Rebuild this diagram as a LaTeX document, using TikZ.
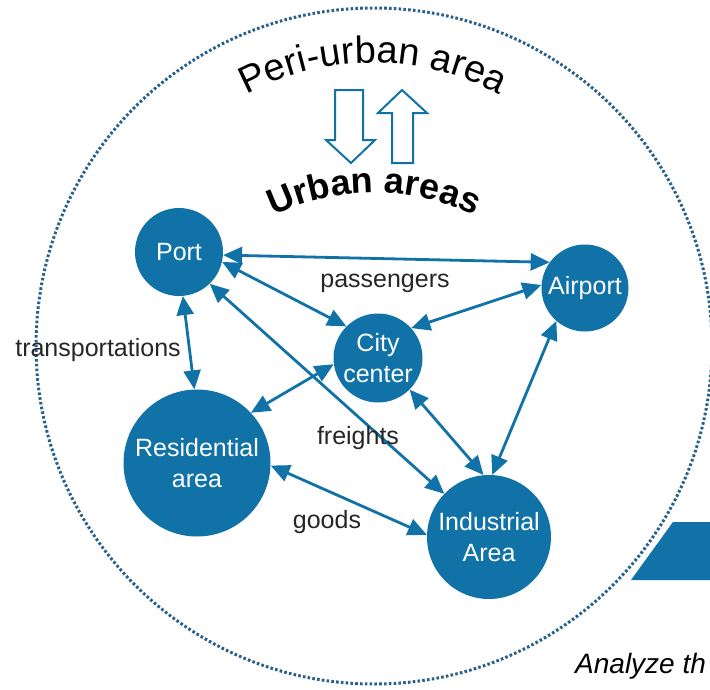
\documentclass[tikz,border=0pt]{standalone}
\usepackage{fontspec}
\setmainfont{Liberation Sans}
\usetikzlibrary{arrows.meta,decorations.text}

\definecolor{cityblue}{RGB}{17,114,168}
\definecolor{dotblue}{RGB}{40,96,140}

\begin{document}
\begin{tikzpicture}[x = 1pt, y = -1pt,
    place/.style = {circle, fill = cityblue, text = white, align = center, inner sep = 0pt,
                    font = \fontsize{25}{31}\selectfont},
    link/.style = {{Triangle[length=19pt, width=17pt]}-{Triangle[length=19pt, width=17pt]},
                   line width = 2.8pt, cityblue},
    flow/.style = {font = \fontsize{25}{30}\selectfont, text = black!85},
    hollow/.style = {draw = cityblue, fill = white, line width = 2pt}]

            \useasboundingbox (0,0) rectangle (710,689);
            \draw [dotblue, line width = 3pt, dash pattern = on 2.6pt off 2.2pt] (374,346) circle [radius = 338];

            \path [decorate, decoration = {text along path, text align = center,
                   text = {|\fontsize{38}{42}\selectfont|Peri-urban area}}]
                   (373,333) ++(190:270) arc [start angle = 190, end angle = 350, radius = 270];
            \path [decorate, decoration = {text along path, text align = center,
                   text = {|\fontsize{36}{40}\selectfont\bfseries|Urban areas}}]
                   (374,425) ++(190:232) arc [start angle = 190, end angle = 350, radius = 232];

            \draw [hollow] (335,90) -- (363,90) -- (363,140) -- (375,140) -- (351,163) -- (326,140) -- (335,140) -- cycle;
            \draw [hollow] (402,90) -- (427,113) -- (413,113) -- (413,163) -- (392,163) -- (392,113) -- (378,113) -- cycle;

            \node [place, minimum size = 88pt] (port) at (179,252) {Port};
            \node [place, minimum size = 87pt] (airport) at (585,288) {Airport};
            \node [place, minimum size = 89pt] (city) at (378,358) {City\\center};
            \node [place, minimum size = 147pt] (res) at (197,463) {Residential\\area};
            \node [place, minimum size = 124pt] (ind) at (489,537) {Industrial\\Area};

            \foreach \a/\b in {port.-4/airport.144, port.-13/city.135, port.-85/res.92, port.-46/ind.136,
                               city.42/airport.176, city.188/res.43, city.-45/ind.95, airport.-131/ind.87,
                               res.-2/ind.178} {
              \draw [link] (\a) -- (\b);
            }

            \node [flow] (passengers) at (385,283) {passengers};
            \node [flow] (transport) at (98,350) {transportations};
            \node [flow] (freights) at (358,438) {freights};
            \node [flow] (goods) at (327,522) {goods};

            \fill [cityblue] (673,522) -- (710,522) -- (710,580) -- (631,580) -- cycle;
            \node [anchor = base west, inner sep = 0pt, font = \fontsize{28}{32}\selectfont\itshape] (analyze) at (575,673) {Analyze th};
            \end{tikzpicture}
\end{document}
